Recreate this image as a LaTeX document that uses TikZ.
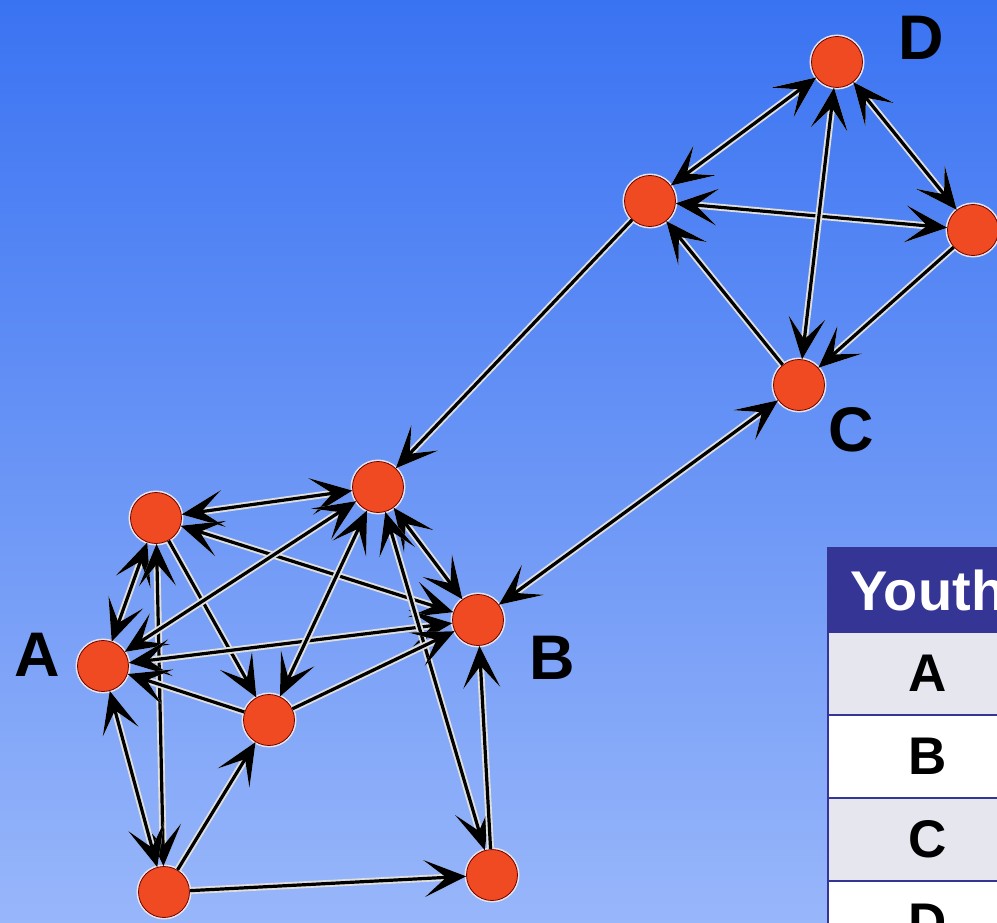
\documentclass[tikz,border=0pt]{standalone}
\usepackage{fontspec}
\setmainfont{Liberation Sans}
\usetikzlibrary{positioning,arrows.meta,shapes}

\definecolor{nodered}{RGB}{240,74,34}
\definecolor{skytop}{RGB}{58,115,242}
\definecolor{skybottom}{RGB}{152,182,250}
\definecolor{tabblue}{RGB}{53,53,150}
\definecolor{tabgray}{RGB}{230,231,238}

\tikzset{
  barb/.tip={Stealth[length=42pt,width=37pt,inset=22pt]},
  actor/.style={circle, fill=nodered, draw=red!45!black, line width=0.8pt,
    minimum size=51pt, inner sep=0pt,
    preaction={draw=white!80!gray, line width=4pt}},
  tie/.style={line width=3.2pt, preaction={draw=white!75!gray, line width=7pt}},
  tag/.style={font=\fontsize{63}{63}\selectfont\bfseries},
  cell/.style={rectangle, draw=tabblue, line width=1.5pt, outer sep=0pt,
    minimum width=200pt, minimum height=83pt,
    font=\fontsize{53}{53}\selectfont\bfseries},
}

\begin{document}
\begin{tikzpicture}[x=1pt,y=-1pt]
  \useasboundingbox (0,0) rectangle (997,923);
  \clip (0,0) rectangle (997,923);
  \shade[top color=skytop, bottom color=skybottom] (0,0) rectangle (997,923);

  % upper group
  \node[actor] (D) at (837,62) {};
  \node[actor] (upl) at (650,201) {};
  \node[actor] (upr) at (973,230) {};
  \node[actor] (C) at (799,385) {};

  % lower group
  \node[actor] (top) at (378,487) {};
  \node[actor] (lft) at (156,518) {};
  \node[actor] (A) at (103,666) {};
  \node[actor] (B) at (478,620) {};
  \node[actor] (mid) at (269,720) {};
  \node[actor] (botl) at (164,892) {};
  \node[actor] (botr) at (492,875) {};

  \node[tag] (tagD) at (921,38) {D};
  \node[tag] (tagC) at (851,430) {C};
  \node[tag] (tagA) at (37,655) {A};
  \node[tag] (tagB) at (552,658) {B};

  \draw[tie, barb-barb] (D) -- (upl);
  \draw[tie, barb-barb] (D) -- (upr);
  \draw[tie, barb-barb] (upl) -- (upr);
  \draw[tie, barb-barb] (C) -- (D);
  \draw[tie, -barb] (upr) -- (C);
  \draw[tie, -barb] (C) -- (upl);
  \draw[tie, -barb] (upl) -- (top);
  \draw[tie, barb-barb] (C) -- (B);

  \draw[tie, barb-barb] (lft) -- (top);
  \draw[tie, barb-barb] (lft) -- (B);
  \draw[tie, -barb] (lft) -- (mid);
  \draw[tie, barb-barb] (lft) -- (A);
  \draw[tie, barb-barb] (lft) -- (botl);
  \draw[tie, barb-barb] (A) -- (top);
  \draw[tie, barb-barb] (A) -- (B);
  \draw[tie, -barb] (mid) -- (A);
  \draw[tie, barb-barb] (A) -- (botl);
  \draw[tie, barb-barb] (top) -- (mid);
  \draw[tie, barb-barb] (top) -- (B);
  \draw[tie, barb-barb] (top) -- (botr);
  \draw[tie, -barb] (mid) -- (B);
  \draw[tie, -barb] (botl) -- (mid);
  \draw[tie, -barb] (botl) -- (botr);
  \draw[tie, -barb] (botr) -- (B);

  % table
  \node[cell, fill=tabblue, text=white, minimum height=84pt,
    font=\fontsize{56}{56}\selectfont\bfseries] (youth) at (928,590) {Youth};
  \node[cell, fill=tabgray, below=0pt of youth] (rowA) {A};
  \node[cell, fill=white, below=0pt of rowA] (rowB) {B};
  \node[cell, fill=tabgray, below=0pt of rowB] (rowC) {C};
  \node[cell, fill=white, below=0pt of rowC] (rowD) {D};
\end{tikzpicture}
\end{document}
